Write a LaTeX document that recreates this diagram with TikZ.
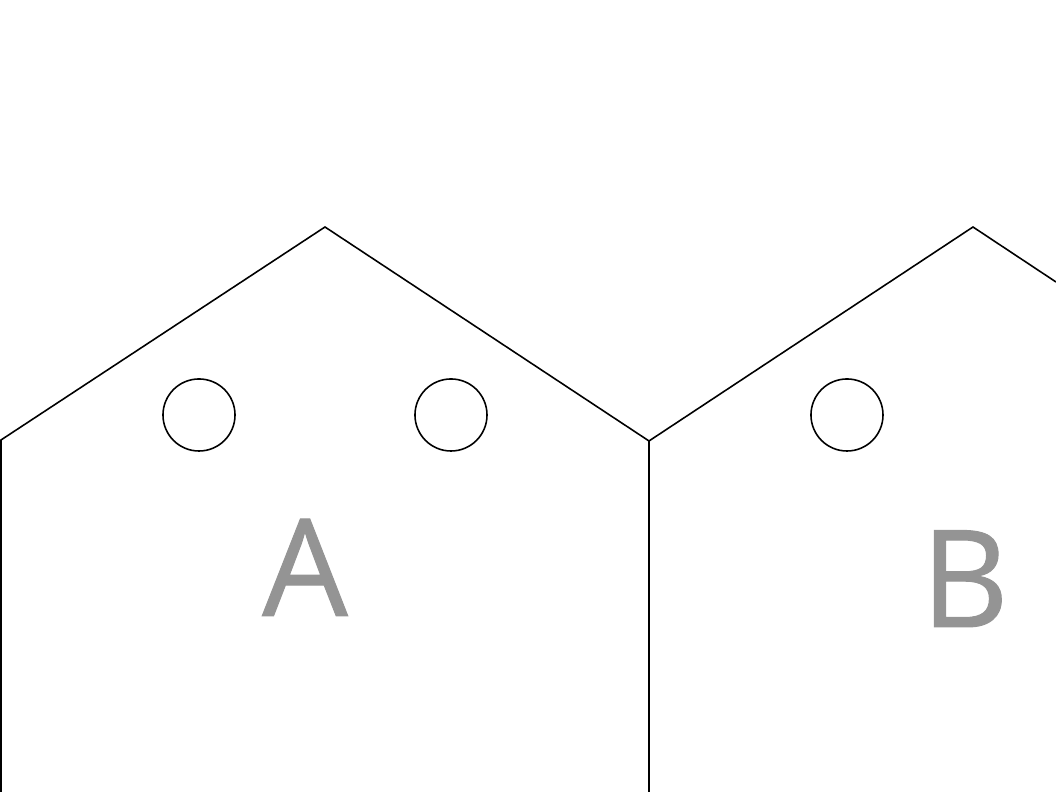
\documentclass[tikz,border=0pt]{standalone}
\usepackage{fontspec}
\setmainfont{Open Sans}
\newfontfamily\letterfont[FakeBold=0.7]{Open Sans}
\definecolor{lettergray}{HTML}{949494}
\tikzset{
  wall/.style={draw=black, line width=0.45pt},
  hole/.style={circle, draw=black, line width=0.45pt, minimum size=0.72cm, inner sep=0pt},
  letter/.style={text=lettergray, font=\letterfont\fontsize{38.5}{38.5}\selectfont, inner sep=0pt, anchor=base}
}
\begin{document}
\begin{tikzpicture}[x=0.01cm, y=-0.01cm]
\useasboundingbox (0,0) rectangle (1056,792);
% house A
\coordinate (aBL) at (1,792);
\coordinate (aL) at (1,440);
\coordinate (aTop) at (325,227);
\coordinate (aR) at (649,441);
\coordinate (aBR) at (649,792);
% house B
\coordinate (bTop) at (973,227);
\coordinate (bEnd) at (1056,282);
\draw[wall] (aBL) -- (aL) -- (aTop) -- (aR) -- (aBR);
\draw[wall] (aR) -- (bTop) -- (bEnd);
\node[hole] (c1) at (199,415) {};
\node[hole] (c2) at (451,415) {};
\node[hole] (c3) at (847,415) {};
\node[letter] (la) at (305,616) {A};
\node[letter] (lb) at (965,627) {B};
\end{tikzpicture}
\end{document}
